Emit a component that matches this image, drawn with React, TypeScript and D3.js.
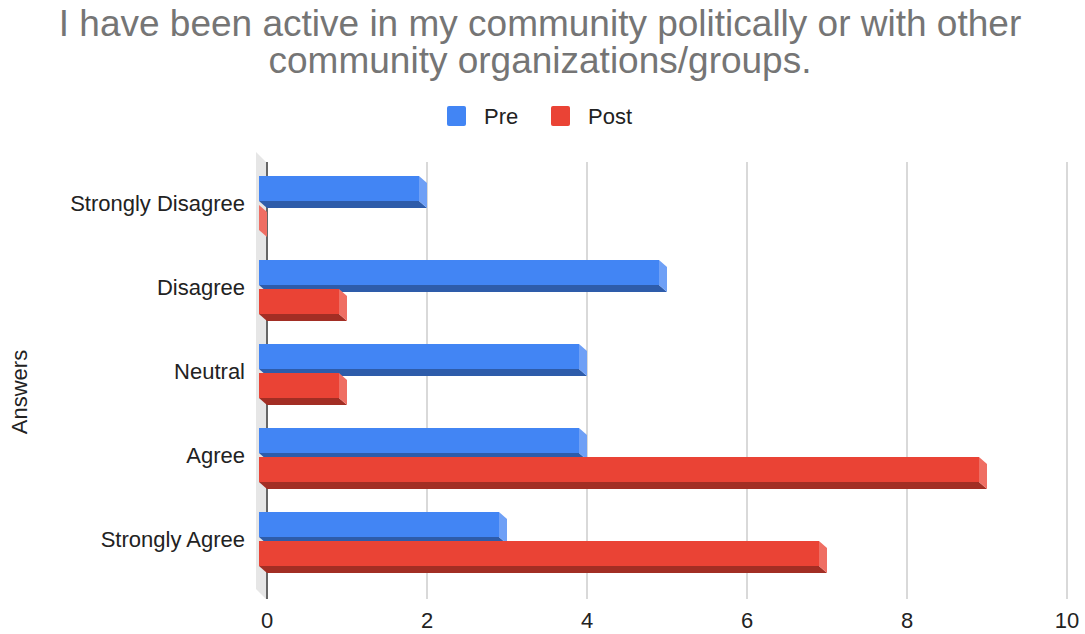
import React from "react";
import * as d3 from "d3";

const categories = ["Strongly Disagree", "Disagree", "Neutral", "Agree", "Strongly Agree"];
const preValues = [2, 5, 4, 4, 3];
const postValues = [0, 1, 1, 9, 7];
const xTicks = [0, 2, 4, 6, 8, 10];
const seriesNames = ["Pre", "Post"];

const W = 1085;
const H = 634;
const DX = 8;
const DY = 7;
const FONT = "'Liberation Sans', Arial, sans-serif";

const colors = [
  { front: "#4285f4", bottom: "#2e5caa", side: "#6fa0f6" },
  { front: "#ea4335", bottom: "#a22e24", side: "#ef6e63" },
];

export default function App() {
  const x = d3.scaleLinear().domain([0, 10]).range([267, 1067]);
  const y = d3.scaleBand<string>().domain(categories).range([161, 581]);
  const backTop = 162;
  const backBottom = 599;
  const barH = 25;
  const gap = 2;

  const bars: JSX.Element[] = [];
  categories.forEach((c, i) => {
    const center = (y(c) as number) + y.bandwidth() / 2;
    [preValues[i], postValues[i]].forEach((v, s) => {
      const col = colors[s];
      const x0 = x(0) - DX;
      const x1 = x(v) - DX;
      const yt = s === 0 ? center - gap - barH : center + gap;
      const yb = yt + barH;
      bars.push(
        <g key={`${c}-${s}`}>
          <polygon
            points={`${x0},${yb} ${x1},${yb} ${x1 + DX},${yb + DY} ${x0 + DX},${yb + DY}`}
            fill={col.bottom}
          />
          <polygon
            points={`${x1},${yt} ${x1 + DX},${yt + DY} ${x1 + DX},${yb + DY} ${x1},${yb}`}
            fill={col.side}
          />
          <rect x={x0} y={yt} width={Math.max(0, x1 - x0)} height={barH} fill={col.front} />
        </g>
      );
    });
  });

  return (
    <svg width={W} height={H} style={{ position: "absolute", left: 0, top: 0, background: "#fff" }}>
      <rect width={W} height={H} fill="#fff" />
      <text x={540} y={36} textAnchor="middle" fontFamily={FONT} fontSize={37} fill="#757575">
        I have been active in my community politically or with other
      </text>
      <text x={540} y={73} textAnchor="middle" fontFamily={FONT} fontSize={37} fill="#757575">
        community organizations/groups.
      </text>

      {seriesNames.map((n, i) => {
        const lx = i === 0 ? 447 : 551;
        return (
          <g key={n}>
            <rect x={lx} y={106} width={19} height={20} rx={2} fill={colors[i].front} />
            <text x={lx + 37} y={124} fontFamily={FONT} fontSize={22} fill="#222">
              {n}
            </text>
          </g>
        );
      })}

      {/* left wall */}
      <polygon
        points={`${x(0) - 11},${backTop - 10} ${x(0) - 1},${backTop} ${x(0) - 1},${backBottom} ${x(0) - 11},${backBottom - 10}`}
        fill="#e6e6e6"
      />

      {xTicks.slice(1).map((t) => (
        <line key={t} x1={x(t)} x2={x(t)} y1={backTop} y2={backBottom} stroke="#cccccc" strokeWidth={1.5} />
      ))}
      <line x1={x(0)} x2={x(0)} y1={backTop} y2={backBottom} stroke="#333" strokeWidth={1.5} />

      {bars}

      {xTicks.map((t) => (
        <text key={t} x={x(t)} y={628} textAnchor="middle" fontFamily={FONT} fontSize={22} fill="#222">
          {t}
        </text>
      ))}

      {categories.map((c) => (
        <text
          key={c}
          x={245}
          y={(y(c) as number) + y.bandwidth() / 2 + 8}
          textAnchor="end"
          fontFamily={FONT}
          fontSize={22}
          fill="#222"
        >
          {c}
        </text>
      ))}

      <text
        transform="translate(27,392) rotate(-90)"
        textAnchor="middle"
        fontFamily={FONT}
        fontSize={22}
        fill="#222"
      >
        Answers
      </text>
    </svg>
  );
}
